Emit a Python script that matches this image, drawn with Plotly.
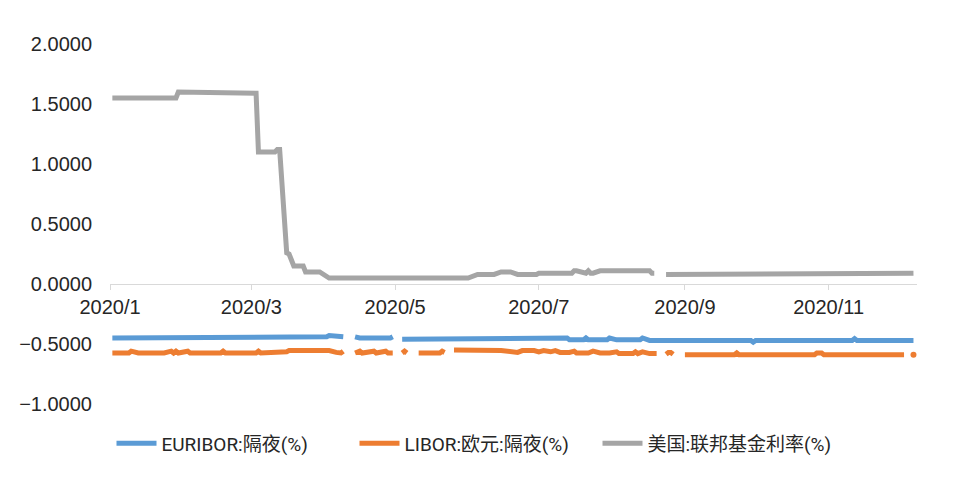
import plotly.graph_objects as go

# ---------------- data ----------------
fed_dates = ["2020-01-02", "2020-01-09", "2020-01-10", "2020-01-15", "2020-01-16", "2020-01-29",
             "2020-01-30", "2020-02-04", "2020-02-05", "2020-02-17", "2020-02-18", "2020-02-19",
             "2020-02-20", "2020-02-27", "2020-02-28", "2020-03-02", "2020-03-03", "2020-03-04",
             "2020-03-11", "2020-03-12", "2020-03-13", "2020-03-16", "2020-03-17", "2020-03-18",
             "2020-03-19", "2020-03-23", "2020-03-24", "2020-03-30", "2020-03-31", "2020-04-01",
             "2020-04-02", "2020-04-03", "2020-06-01", "2020-06-03", "2020-06-05", "2020-06-12",
             "2020-06-15", "2020-06-19", "2020-06-22", "2020-06-30", "2020-07-01", "2020-07-15",
             "2020-07-16", "2020-07-17", "2020-07-20", "2020-07-21", "2020-07-22", "2020-07-23",
             "2020-07-24", "2020-07-27", "2020-08-17", "2020-08-18", "2020-08-19", "2020-08-20",
             "2020-08-24", "2020-08-25", "2020-08-26", "2020-11-17", "2020-11-18", "2020-11-25",
             "2020-11-27", "2020-12-07"]
fed_vals = [1.55, 1.55, 1.54, 1.54, 1.55, 1.55,
            1.60, 1.60, 1.59, 1.59, 1.60, 1.60,
            1.59, 1.59, 1.60, 1.60, 1.59, 1.10,
            1.10, 1.12, 1.12, 0.26, 0.25, 0.20,
            0.15, 0.15, 0.10, 0.10, 0.09, 0.08,
            0.07, 0.05, 0.05, 0.06, 0.08, 0.08,
            0.10, 0.10, 0.08, 0.08, 0.09, 0.09,
            0.11, 0.11, 0.09, 0.09, 0.11, 0.09,
            0.09, 0.11, 0.11, 0.09, 0.09, None,
            0.08, 0.08, 0.09, 0.09, 0.08, 0.08,
            0.09, 0.09]

euribor_dates = ["2020-01-02", "2020-01-06", "2020-01-07", "2020-01-08", "2020-01-13", "2020-01-14",
                 "2020-01-15", "2020-01-20", "2020-01-21", "2020-01-22", "2020-01-28", "2020-01-29",
                 "2020-01-30", "2020-01-31", "2020-02-03", "2020-02-04", "2020-02-17", "2020-02-18",
                 "2020-02-19", "2020-03-12", "2020-03-13", "2020-04-02", "2020-04-03", "2020-04-08",
                 "2020-04-09", "2020-04-10", "2020-04-14", "2020-04-16", "2020-04-29", "2020-04-30",
                 "2020-05-01", "2020-05-04", "2020-06-26", "2020-06-29", "2020-07-13", "2020-07-14",
                 "2020-07-20", "2020-07-21", "2020-07-22", "2020-07-30", "2020-07-31", "2020-08-03",
                 "2020-08-13", "2020-08-14", "2020-08-17", "2020-09-29", "2020-09-30", "2020-10-01",
                 "2020-11-11", "2020-11-12", "2020-11-13", "2020-12-07"]
euribor_vals = [-0.45, -0.45, -0.44, -0.45, -0.45, -0.44,
                -0.45, -0.45, -0.44, -0.45, -0.45, -0.44,
                -0.45, -0.45, -0.44, -0.45, -0.45, -0.445,
                -0.45, -0.45, -0.44, -0.44, -0.43, -0.43,
                -0.44, None, -0.44, -0.45, -0.45, -0.44,
                None, -0.46, -0.46, -0.45, -0.45, -0.465,
                -0.465, -0.45, -0.465, -0.465, -0.45, -0.465,
                -0.465, -0.45, -0.47, -0.47, -0.485, -0.47,
                -0.47, -0.455, -0.47, -0.47]

libor_dates = ["2020-01-02", "2020-01-09", "2020-01-10", "2020-01-13", "2020-01-24", "2020-01-27",
               "2020-01-28", "2020-01-29", "2020-01-30", "2020-02-03", "2020-02-04", "2020-02-17",
               "2020-02-18", "2020-02-19", "2020-03-03", "2020-03-04", "2020-03-05", "2020-03-13",
               "2020-03-16", "2020-03-17", "2020-04-03", "2020-04-06", "2020-04-08", "2020-04-09",
               "2020-04-10", "2020-04-14", "2020-04-16", "2020-04-17", "2020-04-22", "2020-04-23",
               "2020-04-27", "2020-04-28", "2020-04-30", "2020-05-01", "2020-05-04", "2020-05-05",
               "2020-05-06", "2020-05-07", "2020-05-11", "2020-05-20", "2020-05-21", "2020-05-22",
               "2020-05-25", "2020-05-26", "2020-06-10", "2020-06-15", "2020-06-22", "2020-06-24",
               "2020-06-29", "2020-07-01", "2020-07-03", "2020-07-06", "2020-07-08", "2020-07-10",
               "2020-07-14", "2020-07-16", "2020-07-17", "2020-07-22", "2020-07-24", "2020-07-27",
               "2020-07-31", "2020-08-03", "2020-08-04", "2020-08-10", "2020-08-11", "2020-08-12",
               "2020-08-14", "2020-08-17", "2020-08-20", "2020-08-21", "2020-08-24", "2020-08-25",
               "2020-08-26", "2020-08-27", "2020-08-28", "2020-09-01", "2020-09-22", "2020-09-23",
               "2020-09-24", "2020-10-26", "2020-10-27", "2020-10-29", "2020-10-30", "2020-12-03",
               "2020-12-04", "2020-12-07"]
libor_vals = [-0.575, -0.575, -0.56, -0.575, -0.575, -0.56,
              -0.575, -0.56, -0.575, -0.56, -0.575, -0.575,
              -0.56, -0.575, -0.575, -0.56, -0.575, -0.575,
              -0.565, -0.555, -0.555, -0.57, -0.575, -0.56,
              None, -0.575, -0.56, -0.575, -0.56, -0.575,
              -0.56, -0.575, -0.575, None, -0.575, -0.56,
              -0.575, None, -0.575, -0.575, -0.56, -0.57,
              None, -0.55, -0.55, -0.555, -0.57, -0.555,
              -0.555, -0.565, -0.555, -0.565, -0.555, -0.57,
              -0.57, -0.56, -0.575, -0.575, -0.56, -0.575,
              -0.575, -0.565, -0.58, -0.58, -0.565, -0.58,
              -0.565, -0.58, -0.58, None, -0.585, -0.57,
              -0.57, -0.585, None, -0.59, -0.59, -0.575,
              -0.59, -0.59, -0.575, -0.575, -0.59, -0.59,
              None, -0.59]

series_names = ["EURIBOR:隔夜(%)", "LIBOR:欧元:隔夜(%)", "美国:联邦基金利率(%)"]
series_colors = ["#5B9BD5", "#ED7D31", "#A5A5A5"]
y_tickvals = [-1.0, -0.5, 0.0, 0.5, 1.0, 1.5, 2.0]

# ---------------- figure ----------------
TXT = "#262626"
FONT = "Liberation Sans, Arial, Noto Sans CJK SC, sans-serif"
LEG_FONT = "Roboto, Noto Sans CJK SC, sans-serif"

fig = go.Figure()
series = [(euribor_dates, euribor_vals), (libor_dates, libor_vals), (fed_dates, fed_vals)]
for (d, v), name, col in zip(series, series_names, series_colors):
    fig.add_trace(go.Scatter(x=d, y=v, mode="lines", name=name,
                             line=dict(color=col, width=5), connectgaps=False))
    # isolated observations (no neighbour on either side) are drawn as dots
    iso_x, iso_y = [], []
    for i, val in enumerate(v):
        if val is None:
            continue
        left = v[i - 1] if i > 0 else None
        right = v[i + 1] if i < len(v) - 1 else None
        if left is None and right is None:
            iso_x.append(d[i]); iso_y.append(val)
    if iso_x:
        fig.add_trace(go.Scatter(x=iso_x, y=iso_y, mode="markers", showlegend=False,
                                 marker=dict(color=col, size=6), hoverinfo="skip"))

# the page body adds an 8 px offset, so margins are set 8 px smaller on top/left
fig.update_layout(
    width=960, height=487,
    margin=dict(l=102, r=51, t=36, b=91, autoexpand=False),
    paper_bgcolor="white", plot_bgcolor="white",
    font=dict(family=FONT, size=20, color=TXT),
    showlegend=True,
    legend=dict(orientation="h", xref="container", yref="container",
                x=0.4875, xanchor="center", y=0.106, yanchor="middle",
                font=dict(family=LEG_FONT, size=19, color=TXT), traceorder="normal",
                itemwidth=40, tracegroupgap=0,
                entrywidth=188, entrywidthmode="pixels"),
    xaxis=dict(type="date", range=["2020-01-01", "2020-12-08 12:00"],
               tick0="2020-01-01", dtick="M2", tickformat="%Y/%-m",
               anchor="free", position=1/3, automargin=False,
               showline=True, linecolor="#D9D9D9", linewidth=1,
               ticks="outside", ticklen=5, tickcolor="#D9D9D9",
               showgrid=False, zeroline=False,
               tickfont=dict(size=20, color=TXT)),
    yaxis=dict(range=[-1, 2], tickvals=y_tickvals, tickformat=".4f",
               showgrid=False, zeroline=False, showline=False, automargin=False,
               ticks="", ticklabelstandoff=17,
               tickfont=dict(size=20, color=TXT)),
)

fig.write_html("out.html")
